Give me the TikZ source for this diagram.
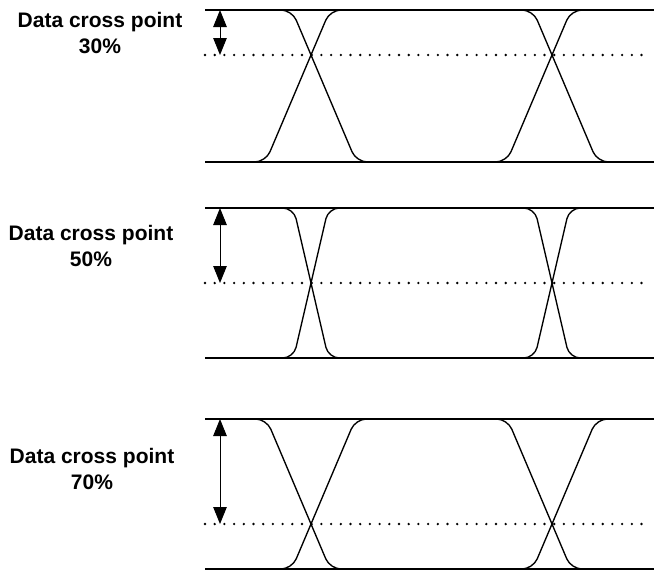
\documentclass[tikz,border=0pt]{standalone}
\usepackage{fontspec}
\setmainfont{Liberation Sans}
\usetikzlibrary{arrows.meta}

\begin{document}
\begin{tikzpicture}[x=1pt,y=-1pt,
    rail/.style={line width=1.5pt},
    transition/.style={line width=1.35pt,rounded corners=11pt},
    crossline/.style={line width=2.6pt,line cap=round,dash pattern=on 0pt off 9.7pt},
    dimarrow/.style={line width=1pt,{Triangle[length=17pt,width=13.5pt]}-{Triangle[length=17pt,width=13.5pt]}},
    crosstext/.style={font=\fontsize{21}{25.5}\selectfont\bfseries,align=center}
    ]
    \useasboundingbox (0,0) rectangle (654,570);

    % one eye per row: top, cross level, bottom, edge slope, percent, label x, label y
    \foreach \n/\T/\C/\B/\s/\pct/\lx/\ly in {1/10/55/162/0.424/30/100/33,
        2/208/283/358/0.232/50/91/246, 3/419/524/569/0.424/70/92/469} {
      \node (lbl\n) [crosstext] at (\lx,\ly) {Data cross point\\\pct\%};
      \coordinate (atop\n) at (220,\T);
      \coordinate (across\n) at (220,\C);

      % the levels
      \draw[rail] (205,\T) -- (654,\T);
      \draw[rail] (205,\B) -- (654,\B);
      \draw[crossline] (205,\C) -- (650,\C);
      \draw[dimarrow] (atop\n) -- (across\n);

      % the edges
      \foreach \cx in {311,552} {
        \pgfmathsetmacro\xa{\cx-\s*(\C-\T)}
        \pgfmathsetmacro\xb{\cx+\s*(\B-\C)}
        \pgfmathsetmacro\xc{\cx-\s*(\B-\C)}
        \pgfmathsetmacro\xd{\cx+\s*(\C-\T)}
        \draw[transition] (\xa-15,\T) -- (\xa,\T) -- (\xb,\B) -- (\xb+15,\B);
        \draw[transition] (\xc-15,\B) -- (\xc,\B) -- (\xd,\T) -- (\xd+15,\T);
      }
    }
\end{tikzpicture}
\end{document}
